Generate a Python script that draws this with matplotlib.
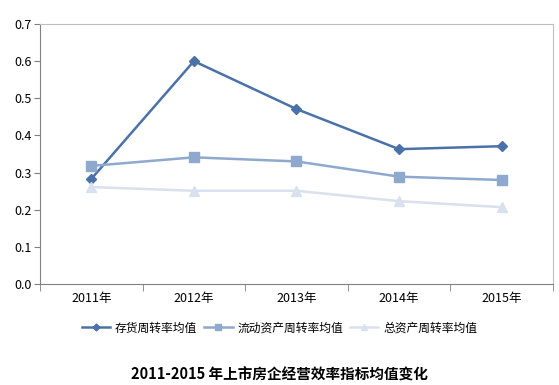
import matplotlib
matplotlib.use('Agg')
import matplotlib.pyplot as plt
import numpy as np

plt.rcParams['font.family'] = ['Noto Sans CJK SC', 'DejaVu Sans']

years = ['2011年', '2012年', '2013年', '2014年', '2015年']
inventory = [0.283, 0.600, 0.471, 0.363, 0.371]
current_assets = [0.318, 0.341, 0.330, 0.289, 0.280]
total_assets = [0.261, 0.251, 0.251, 0.223, 0.207]

names = ['存货周转率均值', '流动资产周转率均值', '总资产周转率均值']
colors = ['#4A72A8', '#8FA8CE', '#D9E0EE']
markers = ['D', 's', '^']
msizes = [5, 7, 7]

fig = plt.figure(figsize=(5.59, 3.85), dpi=100)
ax = fig.add_axes([0.0716, 0.2623, 0.9176, 0.6754])

x = np.arange(len(years))
for vals, name, c, m, ms in zip([inventory, current_assets, total_assets], names, colors, markers, msizes):
    ax.plot(x, vals, color=c, marker=m, markersize=ms, linewidth=1.8, label=name)

ax.set_xlim(-0.5, len(years) - 0.5)
ax.set_ylim(0, 0.7)
ax.set_yticks(np.arange(0, 0.71, 0.1))
ax.set_yticklabels(['%.1f' % v for v in np.arange(0, 0.71, 0.1)], fontsize=9)
ax.set_xticks(x)
ax.set_xticklabels(years, fontsize=9)
ax.set_xticks(np.arange(-0.5, len(years)), minor=True)
ax.tick_params(axis='x', which='major', length=0, pad=6)
ax.tick_params(axis='x', which='minor', length=5, color='#808080')
ax.tick_params(axis='y', length=4, color='#808080', pad=2)

for side in ['top', 'right']:
    ax.spines[side].set_color('#BFBFBF')
for side in ['left', 'bottom']:
    ax.spines[side].set_color('#808080')

fig.legend(loc='center', bbox_to_anchor=(0.5, 0.148), ncol=3, frameon=False,
           fontsize=8.5, handlelength=2.4, columnspacing=0.6, handletextpad=0.4,
           markerscale=0.7)

fig.text(0.5, 0.028, '2011-2015 年上市房企经营效率指标均值变化', ha='center', va='center',
         fontsize=10.5, fontweight='bold')

fig.savefig('out.png', dpi=100)
